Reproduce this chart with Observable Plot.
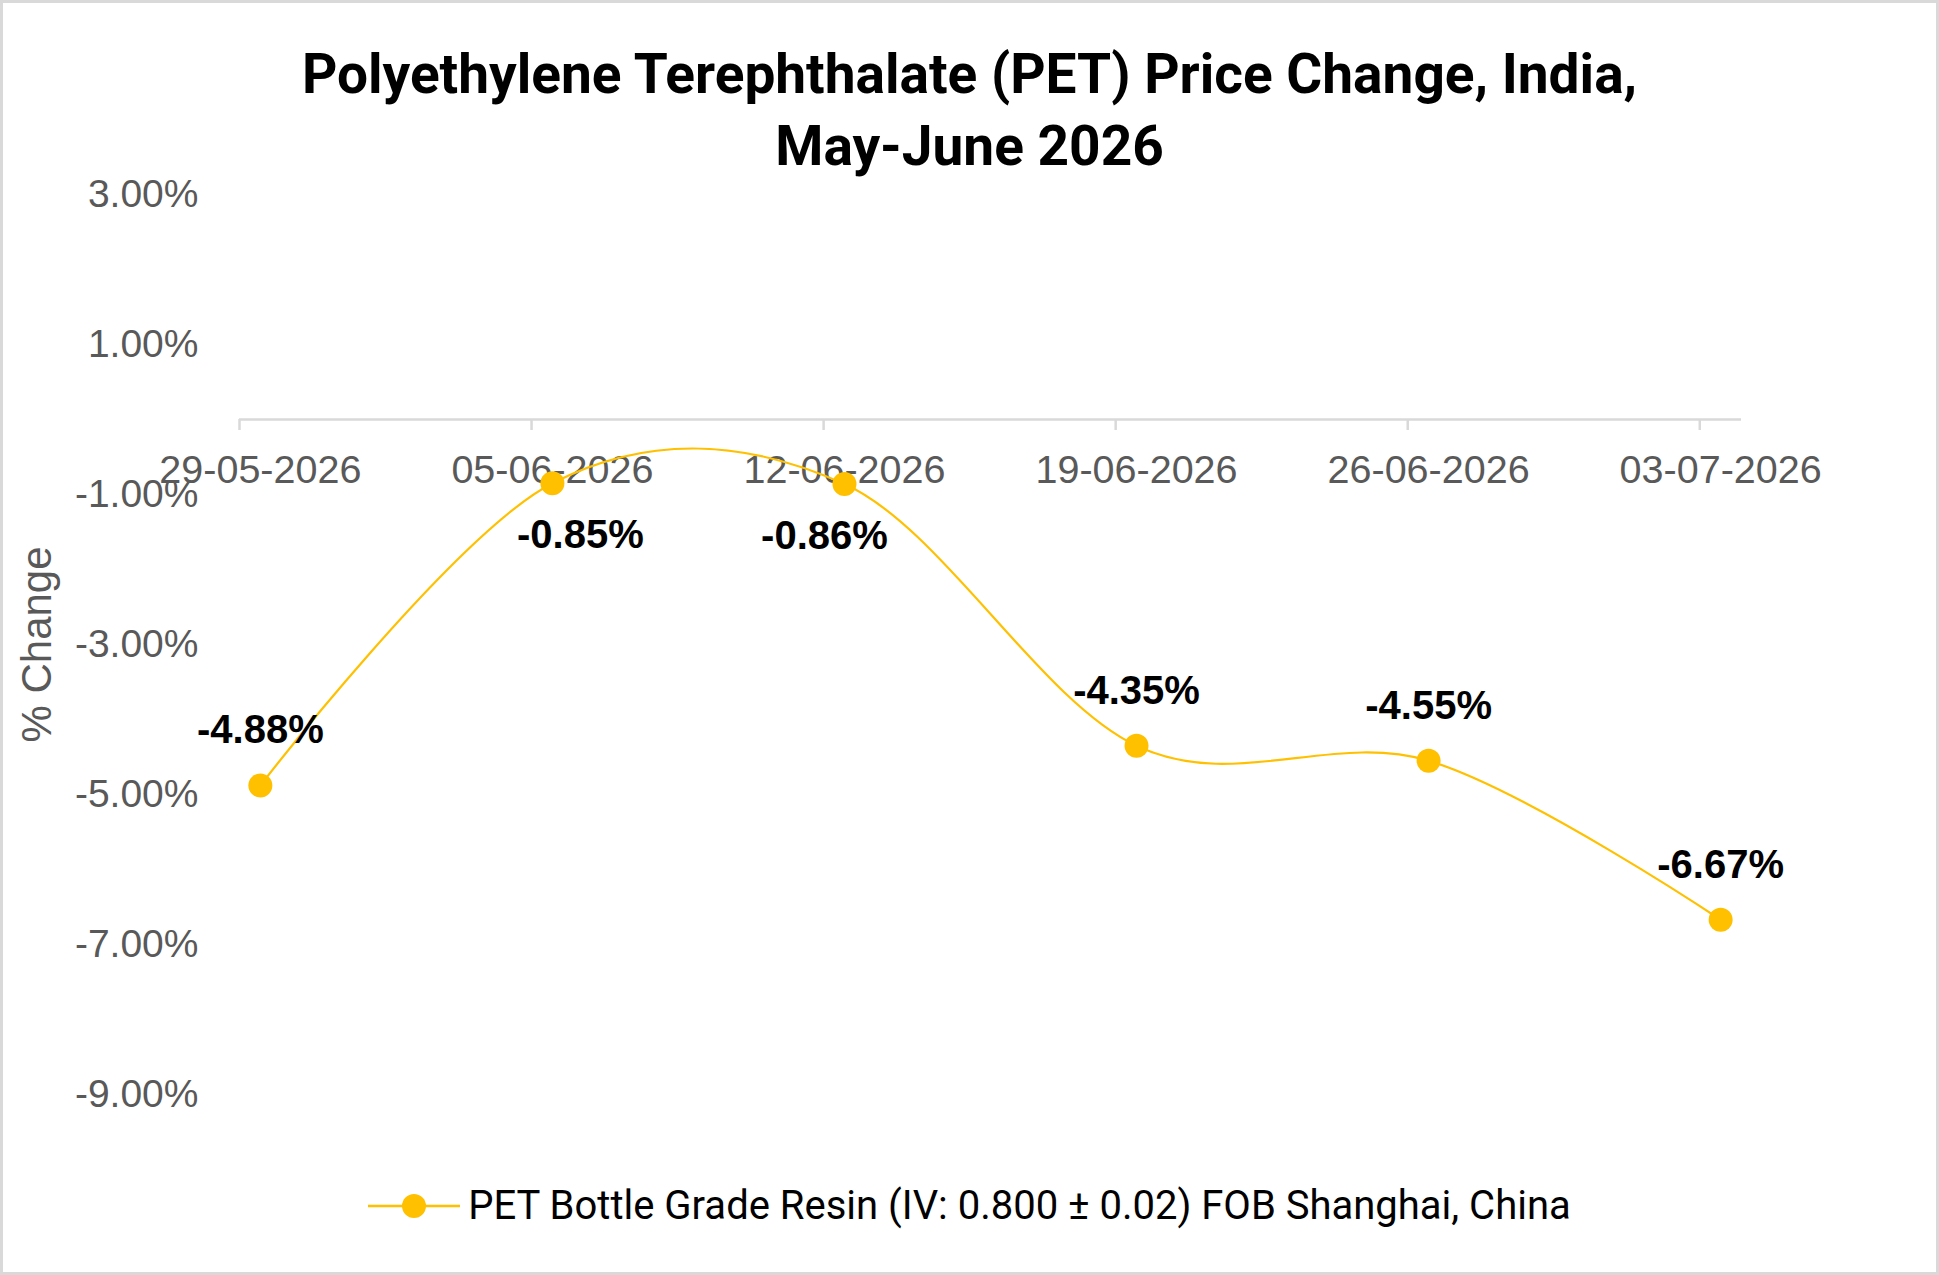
<!DOCTYPE html>
<html>
<head>
<meta charset="utf-8">
<script src="https://cdn.jsdelivr.net/npm/d3@7"></script>
<script src="https://cdn.jsdelivr.net/npm/@observablehq/plot@0.6"></script>
<style>
  html, body { margin: 0; padding: 0; background: #fff; }
  #chart {
    position: relative;
    width: 1939px;
    height: 1275px;
    box-shadow: inset 0 0 0 3px #d9d9d9;
    overflow: hidden;
  }
  #title {
    position: absolute;
    top: 38px;
    left: 0;
    width: 100%;
    text-align: center;
    font-family: Roboto, "Open Sans", sans-serif;
    font-weight: 700;
    font-size: 55px;
    line-height: 72px;
    color: #000;
  }
  #plot { position: absolute; top: 170px; left: 0; }
  #legend {
    position: absolute;
    top: 1182px;
    left: 0;
    width: 100%;
    display: flex;
    justify-content: center;
    align-items: center;
    font-family: Roboto, "Open Sans", sans-serif;
    font-size: 40px;
    color: #000;
  }
  #legend svg { margin-right: 8px; }
</style>
</head>
<body>
<div id="chart">
  <div id="title">Polyethylene Terephthalate (PET) Price Change, India,<br>May-June 2026</div>
  <div id="plot"></div>
  <div id="legend"></div>
</div>
<script>
// Weekly price change series
const weekLabels = ["29-05-2026", "05-06-2026", "12-06-2026", "19-06-2026", "26-06-2026", "03-07-2026"];
const percentChange = [-4.88, -0.85, -0.86, -4.35, -4.55, -6.67];
const yTickValues = [3, 1, -1, -3, -5, -7, -9];
const seriesName = "PET Bottle Grade Resin (IV: 0.800 ± 0.02) FOB Shanghai, China";
const lineColor = "#FFC000";

const parseDay = d3.utcParse("%d-%m-%Y");
const weekStarts = weekLabels.map(parseDay);
// each value sits in the middle of its day slot on the date axis
const rows = weekLabels.map((label, i) => ({
  label,
  day: weekStarts[i],
  mid: d3.utcHour.offset(weekStarts[i], 12),
  value: percentChange[i]
}));
const axisStart = weekStarts[0];
const axisEnd = d3.utcDay.offset(weekStarts[weekStarts.length - 1], 1);

const fmtPct = d => d.toFixed(2) + "%";
const isPeak = d => d.value > -2;
const valueLabel = {x: "mid", y: "value", text: d => fmtPct(d.value), fontSize: 40, fontWeight: "bold", fill: "#000"};

const chart = Plot.plot({
  width: 1939,
  height: 980,
  marginLeft: 239,
  marginRight: 198,
  marginTop: 24,
  marginBottom: 56,
  style: { fontFamily: "'Liberation Sans', Arial, sans-serif", background: "transparent", overflow: "visible" },
  x: { type: "utc", domain: [axisStart, axisEnd], axis: null },
  y: { domain: [-9, 3], axis: null },
  marks: [
    Plot.axisY({
      ticks: yTickValues,
      tickFormat: fmtPct,
      tickSize: 0,
      tickPadding: 41,
      fontSize: 39,
      fill: "#595959",
      label: null
    }),
    Plot.text(["% Change"], {
      frameAnchor: "left",
      textAnchor: "middle",
      rotate: -90,
      dx: -202,
      fontSize: 42,
      fill: "#595959"
    }),
    // category axis drawn along zero
    Plot.ruleY([0], { x1: axisStart, x2: axisEnd, stroke: "#d9d9d9", strokeWidth: 2.5 }),
    Plot.ruleX(weekStarts, { x: d => d, y1: 0, y2: 0, insetBottom: -11, stroke: "#d9d9d9", strokeWidth: 2.5 }),
    Plot.text(rows, { x: "mid", y: 0, text: "label", dy: 51, fontSize: 39.5, fill: "#595959" }),
    Plot.line(rows, { x: "mid", y: "value", curve: "cardinal", tension: 0, stroke: lineColor, strokeWidth: 2.2 }),
    Plot.dot(rows, { x: "mid", y: "value", r: 12, fill: lineColor, stroke: "none" }),
    Plot.text(rows.filter(d => !isPeak(d)), { ...valueLabel, dy: -55 }),
    // the two near-zero peaks carry their labels below, nudged apart
    Plot.text(rows.filter(isPeak).slice(0, 1), { ...valueLabel, dy: 52, dx: 28 }),
    Plot.text(rows.filter(isPeak).slice(1), { ...valueLabel, dy: 52, dx: -20 })
  ]
});
document.getElementById("plot").appendChild(chart);

// legend: line-with-marker swatch and series name
const legend = d3.select("#legend");
const sw = legend.append("svg").attr("width", 92).attr("height", 30);
sw.append("line").attr("x1", 0).attr("x2", 92).attr("y1", 15).attr("y2", 15)
  .attr("stroke", lineColor).attr("stroke-width", 2.5);
sw.append("circle").attr("cx", 46).attr("cy", 15).attr("r", 12).attr("fill", lineColor);
legend.append("span").text(seriesName);
</script>
</body>
</html>
